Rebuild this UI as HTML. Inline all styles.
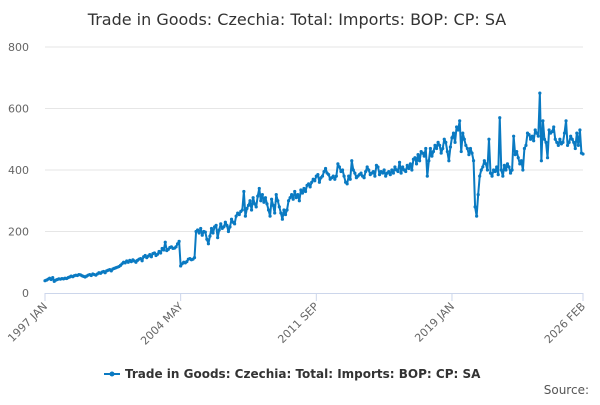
<!DOCTYPE html>
<html><head><meta charset="utf-8"><style>
body{margin:0;background:#fff;font-family:"Liberation Sans","DejaVu Sans",sans-serif;}
svg text{font-family:"DejaVu Sans","Liberation Sans",sans-serif;}
</style></head><body>
<svg id="chart" width="600" height="400" viewBox="0 0 600 400">
<text x="297" y="25" text-anchor="middle" font-size="16" fill="#333">Trade in Goods: Czechia: Total: Imports: BOP: CP: SA</text>
<g id="grid"></g>
<g id="yaxis"></g>
<g id="xaxis"></g>
<g id="series"></g>
<g>
<line x1="104" y1="374" x2="120" y2="374" stroke="#0a7ac2" stroke-width="2"/>
<circle cx="112" cy="374" r="2.5" fill="#0a7ac2"/>
<text x="125" y="378" font-size="12" font-weight="bold" fill="#333">Trade in Goods: Czechia: Total: Imports: BOP: CP: SA</text>
</g>
<text x="589" y="394" text-anchor="end" font-size="12" fill="#555">Source:</text>
</svg>
<script>
const yTicks=[0,200,400,600,800];
const xLabels=["1997 JAN","2004 MAY","2011 SEP","2019 JAN","2026 FEB"];
const xLabelIdx=[0,88,176,264,349];
const values=[
40,42,45,48,44,50,38,42,44,46,45,47,
46,48,47,50,52,55,53,56,58,57,60,59,
56,54,52,55,58,60,57,62,60,58,62,66,
64,68,70,66,72,74,76,72,78,80,82,84,
86,90,95,100,98,104,100,106,102,108,104,100,
106,110,112,105,118,122,115,120,125,118,128,130,
122,126,135,130,145,140,165,138,142,148,150,145,
146,150,160,168,88,95,100,98,102,110,112,108,
110,115,200,205,195,210,188,200,198,175,160,185,
210,195,215,220,180,205,225,210,215,230,220,200,
215,240,230,225,250,260,255,265,270,330,250,275,
285,300,270,310,290,280,315,340,300,320,295,310,
290,270,250,305,285,260,320,300,280,260,240,270,
255,270,300,310,320,305,330,310,320,300,335,325,
340,330,350,355,345,360,370,365,380,385,360,375,
380,395,405,390,385,370,375,380,370,380,420,410,
395,400,380,360,355,380,370,430,400,390,375,380,
385,390,380,375,395,410,400,385,390,395,380,415,
410,385,395,390,400,380,390,395,385,400,390,410,
400,395,425,390,410,400,395,415,405,420,400,435,
440,420,450,430,460,455,445,470,380,430,470,445,
460,480,470,490,480,455,470,500,490,460,430,475,
505,520,490,540,530,560,460,520,500,480,470,450,
470,455,430,280,250,320,380,400,410,430,420,400,
500,390,380,400,395,410,385,570,400,380,415,400,
420,410,390,400,510,450,460,440,420,430,400,470,
480,520,515,500,510,495,530,520,510,650,430,560,
500,490,440,530,520,525,540,500,490,480,500,485,
490,520,560,480,490,510,500,490,470,520,480,530,
455,452];
const NS='http://www.w3.org/2000/svg';
const X0=45,X1=583,Y0=293,Y1=47;
function xs(i){return X0+(X1-X0)*i/(values.length-1);}
function ys(v){return Y0-(Y0-Y1)*v/800;}
function mk(t,a,p){const e=document.createElementNS(NS,t);for(const k in a)e.setAttribute(k,a[k]);p.appendChild(e);return e;}
const grid=document.getElementById('grid'),ya=document.getElementById('yaxis'),xa=document.getElementById('xaxis'),se=document.getElementById('series');
yTicks.forEach(v=>{
 if(v>0){const l=mk('line',{x1:X0,x2:X1,y1:ys(v),y2:ys(v),stroke:'#e6e6e6','stroke-width':1},grid);
 
 }
 const t=mk('text',{x:X0-16,y:ys(v)+4,'text-anchor':'end','font-size':11,fill:'#666'},ya);
 
 
 t.textContent=v;
});
mk('line',{x1:X0,x2:X1,y1:Y0+0.5,y2:Y0+0.5,stroke:'#ccd6eb','stroke-width':1},xa);
xLabelIdx.forEach((idx,k)=>{
 const x=X0+(X1-X0)*idx/349;
 mk('line',{x1:x,x2:x,y1:Y0,y2:Y0+8,stroke:'#ccd6eb'},xa);
 const t=mk('text',{x:x+3,y:Y0+14,'text-anchor':'end','font-size':11,fill:'#666',transform:`rotate(-45 ${x+3} ${Y0+14})`},xa);
 
 
 t.textContent=xLabels[k];
});
const pts=values.map((v,i)=>xs(i).toFixed(2)+','+ys(v).toFixed(2)).join(' ');
const pl=mk('polyline',{points:pts,fill:'none',stroke:'#0a7ac2','stroke-width':2,'stroke-linejoin':'round'},se);


values.forEach((v,i)=>{
 const c=mk('circle',{cx:xs(i),cy:ys(v),r:1.6,fill:'#0a7ac2'},se);
 
 
});
</script>
</body></html>
